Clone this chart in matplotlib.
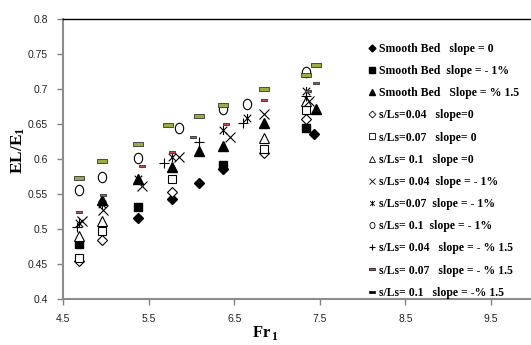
import matplotlib
matplotlib.use("Agg")
import matplotlib.pyplot as plt
from matplotlib.path import Path
from matplotlib.lines import Line2D

plt.rcParams['font.family'] = ['Liberation Sans', 'DejaVu Sans']
plt.rcParams['mathtext.fontset'] = 'custom'
plt.rcParams['mathtext.bf'] = 'Liberation Serif:bold'
plt.rcParams['mathtext.rm'] = 'Liberation Serif'

# Froude number (Fr1) and relative energy loss (EL/E1) for each bed configuration
smooth0_x = [5.38, 5.77, 6.09, 6.37, 7.43]
smooth0_y = [0.516, 0.543, 0.566, 0.586, 0.636]
smooth1_x = [4.69, 5.38, 6.37, 7.34]
smooth1_y = [0.478, 0.532, 0.592, 0.645]
smooth15_x = [4.95, 5.38, 5.77, 6.09, 6.37, 6.85, 7.45]
smooth15_y = [0.542, 0.572, 0.588, 0.612, 0.618, 0.651, 0.671]
s04_0_x = [4.69, 4.95, 5.77, 6.85, 7.34]
s04_0_y = [0.455, 0.485, 0.553, 0.608, 0.657]
s07_0_x = [4.69, 4.95, 5.77, 6.85, 7.34]
s07_0_y = [0.459, 0.497, 0.572, 0.615, 0.670]
s10_0_x = [4.69, 4.95, 6.85, 7.34]
s10_0_y = [0.490, 0.511, 0.630, 0.683]
s04_1_x = [4.72, 4.97, 5.42, 5.86, 6.45, 6.85, 7.37]
s04_1_y = [0.512, 0.527, 0.562, 0.603, 0.632, 0.665, 0.683]
s07_1_x = [4.69, 4.95, 5.38, 5.77, 6.37, 6.65, 7.34]
s07_1_y = [0.508, 0.536, 0.572, 0.603, 0.641, 0.659, 0.697]
s10_1_x = [4.69, 4.95, 5.38, 5.85, 6.37, 6.65, 7.34]
s10_1_y = [0.555, 0.575, 0.602, 0.645, 0.672, 0.678, 0.724]
s04_15_x = [4.66, 5.68, 6.09, 6.60, 7.34]
s04_15_y = [0.503, 0.594, 0.625, 0.652, 0.690]
s07_15_x = [4.69, 4.97, 5.42, 5.77, 6.02, 6.40, 6.85, 7.36, 7.45]
s07_15_y = [0.524, 0.548, 0.590, 0.610, 0.632, 0.650, 0.684, 0.697, 0.709]
s10_15_x = [4.69, 4.95, 5.38, 5.73, 6.09, 6.37, 6.85, 7.34, 7.45]
s10_15_y = [0.573, 0.597, 0.622, 0.649, 0.662, 0.677, 0.700, 0.720, 0.735]

labels = [
    "Smooth Bed   slope = 0",
    "Smooth Bed  slope = - 1%",
    "Smooth Bed   Slope = % 1.5",
    "s/Ls=0.04   slope=0",
    "s/Ls=0.07   slope= 0",
    "s/Ls= 0.1   slope =0",
    "s/Ls= 0.04  slope = - 1%",
    "s/Ls=0.07  slope = - 1%",
    "s/Ls= 0.1  slope = - 1%",
    "s/Ls= 0.04   slope = - % 1.5",
    "s/Ls= 0.07   slope = - % 1.5",
    "s/Ls= 0.1   slope = -% 1.5",
]
x_ticks = [4.5, 5.5, 6.5, 7.5, 8.5, 9.5]
y_ticks = [0.4, 0.45, 0.5, 0.55, 0.6, 0.65, 0.7, 0.75, 0.8]

# custom marker shapes
star = Path([(-1, -1), (1, 1), (-1, 1), (1, -1), (0, -1.2), (0, 1.2)],
            [Path.MOVETO, Path.LINETO, Path.MOVETO, Path.LINETO, Path.MOVETO, Path.LINETO])
dash = Path([(-1, -0.35), (1, -0.35), (1, 0.35), (-1, 0.35), (-1, -0.35)],
            [Path.MOVETO, Path.LINETO, Path.LINETO, Path.LINETO, Path.CLOSEPOLY])
oval = Path.unit_circle().transformed(matplotlib.transforms.Affine2D().scale(0.8, 1.0))

fig = plt.figure(figsize=(5.31, 3.45), dpi=100)
ax = fig.add_axes([63 / 531, 46 / 345, 470.8 / 531, 280 / 345])

k = dict(linestyle='none')
ax.plot(smooth0_x, smooth0_y, marker='D', ms=5.2, mfc='black', mec='black', **k)
ax.plot(smooth1_x, smooth1_y, marker='s', ms=5.5, mfc='black', mec='black', **k)
ax.plot(smooth15_x, smooth15_y, marker='^', ms=6.5, mfc='black', mec='black', **k)
ax.plot(s04_0_x, s04_0_y, marker='D', ms=5.5, mfc='white', mec='black', mew=0.8, **k)
ax.plot(s07_0_x, s07_0_y, marker='s', ms=6, mfc='white', mec='black', mew=0.8, **k)
ax.plot(s10_0_x, s10_0_y, marker='^', ms=7, mfc='white', mec='black', mew=0.8, **k)
ax.plot(s04_1_x, s04_1_y, marker='x', ms=6.5, mec='black', mew=0.8, **k)
ax.plot(s07_1_x, s07_1_y, marker=star, ms=6.5, mec='black', mew=0.8, **k)
ax.plot(s10_1_x, s10_1_y, marker=oval, ms=7.5, mfc='white', mec='black', mew=0.8, **k)
ax.plot(s04_15_x, s04_15_y, marker='+', ms=7, mec='black', mew=0.8, **k)
ax.plot(s07_15_x, s07_15_y, marker=dash, ms=4.5, mfc='#c0504d', mec='#333333', mew=0.6, **k)
ax.plot(s10_15_x, s10_15_y, marker=dash, ms=6.5, mfc='#9bab45', mec='#333333', mew=0.6, **k)

ax.set_xlim(4.5, 10)
ax.set_ylim(0.4, 0.8)
ax.set_xticks(x_ticks)
ax.set_xticklabels([f"{v:g}" for v in x_ticks])
ax.set_yticks(y_ticks)
ax.set_yticklabels([f"{v:g}" for v in y_ticks])
ax.tick_params(axis='both', direction='out', length=4, width=1, color='#808080',
               labelsize=7.5, labelcolor='#222222', pad=7)

for side in ('left', 'bottom'):
    ax.spines[side].set_color('#8c8c8c')
    ax.spines[side].set_linewidth(1.5)
ax.spines['top'].set_color('black')
ax.spines['top'].set_linewidth(1.0)
ax.spines['right'].set_visible(False)

# legend
lk = dict(linestyle='none', mec='black')
handles = [
    Line2D([], [], marker='D', ms=3.5, mfc='black', **lk),
    Line2D([], [], marker='s', ms=4, mfc='black', **lk),
    Line2D([], [], marker='^', ms=4.5, mfc='black', **lk),
    Line2D([], [], marker='D', ms=3.5, mfc='white', mew=0.6, **lk),
    Line2D([], [], marker='s', ms=4, mfc='white', mew=0.6, **lk),
    Line2D([], [], marker='^', ms=4.5, mfc='white', mew=0.6, **lk),
    Line2D([], [], marker='x', ms=4, mew=0.6, **lk),
    Line2D([], [], marker=star, ms=4, mew=0.6, **lk),
    Line2D([], [], marker=oval, ms=4.5, mfc='white', mew=0.6, **lk),
    Line2D([], [], marker='+', ms=5, mew=0.8, **lk),
    Line2D([], [], marker=dash, ms=4, mfc='#c0504d', mew=0.5, **lk),
    Line2D([], [], marker=dash, ms=4.5, mfc='black', mew=0.5, **lk),
]
leg = fig.legend(handles, labels, loc='upper left', bbox_to_anchor=(368 / 531, 1 - 43 / 345),
                 frameon=False, handlelength=0.6, handletextpad=0.35, labelspacing=0.86,
                 borderaxespad=0, borderpad=0,
                 prop=dict(family='Liberation Serif', weight='bold', size=8.5))

fig.text(18 / 531, 1 - 150 / 345, r'$\mathbf{EL/E_1}$', rotation=90, ha='center', va='center',
         fontsize=12.5)
fig.text(265 / 531, 1 - 333 / 345, r'$\mathbf{Fr}_{\,\mathbf{1}}$', ha='center', va='center',
         fontsize=12)

fig.savefig('out.png', dpi=100)
